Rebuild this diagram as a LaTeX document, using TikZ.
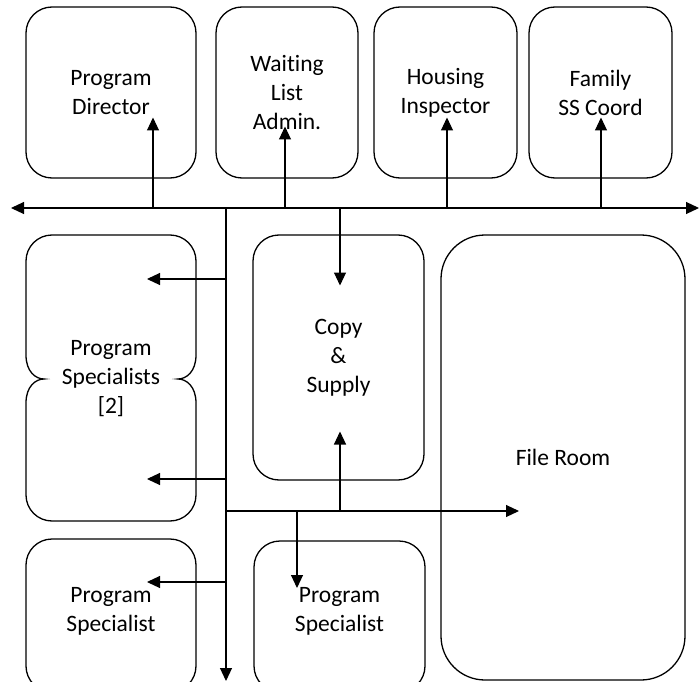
\documentclass[tikz,border=0pt]{standalone}
\usepackage{fontspec}
\setmainfont{Carlito}[Ligatures=NoCommon]
\usepackage{tikz}
\usetikzlibrary{arrows.meta, positioning, calc}
\tikzstyle{office} = [draw, line width=1.3pt, rounded corners=26pt, align=center, inner sep=0pt, font=\fontsize{23.5}{29}\selectfont]
\tikzstyle{roomLabel} = [align=center, inner sep=0pt, font=\fontsize{23.5}{29}\selectfont]
\tikzstyle{route} = [-{Triangle[length=13pt, width=12pt]}, line width=1.1pt]

\begin{document}
\begin{tikzpicture}[x=1pt, y=-1pt]
    \useasboundingbox (0,0) rectangle (699,682);

    % Top row
    \node[office, minimum width=170pt, minimum height=171pt] (pd) at (111,92.5) {Program\\Director};
    \node[office, minimum width=142pt, minimum height=171pt] (wla) at (287,92.5) {Waiting\\List\\Admin.};
    \node[office, minimum width=143pt, minimum height=171pt] (hi) at (445.5,92.5) {Housing\\Inspector};
    \node[office, minimum width=143pt, minimum height=171pt] (fss) at (600.5,92.5) {Family\\SS Coord};

    % Middle row
    \node[office, draw=none, minimum width=170pt, minimum height=286pt] (ps2) at (111,378.5) {Program\\Specialists\\{[2]}};
    \draw[line width=1.3pt] (52,235) -- (170,235) arc (-90:0:26) -- (196,355)
        .. controls (196,372) and (186,379) .. (178,379)
        .. controls (186,379) and (196,386) .. (196,403) -- (196,495) arc (0:90:26)
        -- (52,521) arc (90:180:26) -- (26,403)
        .. controls (26,386) and (36,379) .. (44,379)
        .. controls (36,379) and (26,372) .. (26,355) -- (26,261) arc (180:270:26);
    \node[office, minimum width=171pt, minimum height=245pt] (copy) at (338.5,357.5) {Copy\\\&\\Supply};
    \node[office, rounded corners=44pt, minimum width=244pt, minimum height=445pt] (file) at (563,457.5) {File Room};

    % Bottom row (cut off by the page edge)
    \node[office, minimum width=170pt, minimum height=153pt, label={[roomLabel, yshift=4.5pt]center:{Program\\Specialist}}] (psA) at (111,615.5) {};
    \node[office, minimum width=171pt, minimum height=151pt, label={[roomLabel, yshift=5.5pt]center:{Program\\Specialist}}] (psB) at (339.5,616.5) {};

    % Corridor points
    \coordinate (busL) at (11,208);
    \coordinate (busR) at (699,208);
    \coordinate (hall) at (226,208);
    \coordinate (hallEnd) at (226,681);
    \coordinate (low) at (226,511);
    \coordinate (lowEnd) at (519,511);

    % Main corridors
    \draw[route, {Triangle[length=13pt, width=12pt]}-{Triangle[length=13pt, width=12pt]}] (busL) -- (busR);
    \draw[route] (hall) -- (hallEnd);
    \draw[route] (low) -- (lowEnd);

    % Up into the top row
    \draw[route] (153,208) -- ($(pd.center)+(42,25)$);
    \draw[route] (285,208) -- ($(wla.center)+(-2,34)$);
    \draw[route] (447,208) -- ($(hi.center)+(1.5,25)$);
    \draw[route] (601,208) -- ($(fss.center)+(0.5,25)$);

    % Branches off the hall
    \draw[route] (340,208) -- ($(copy.center)+(1.5,-72)$);
    \draw[route] (hall |- 0,279) -- ($(ps2.center)+(36,-99.5)$);
    \draw[route] (hall |- 0,479) -- ($(ps2.center)+(36,100.5)$);
    \draw[route] (hall |- 0,582) -- ($(psA.center)+(36,-33.5)$);
    \draw[route] (340,511) -- ($(copy.center)+(1.5,74)$);
    \draw[route] (297,511) -- ($(psB.center)+(-42.5,-28.5)$);
\end{tikzpicture}
\end{document}
